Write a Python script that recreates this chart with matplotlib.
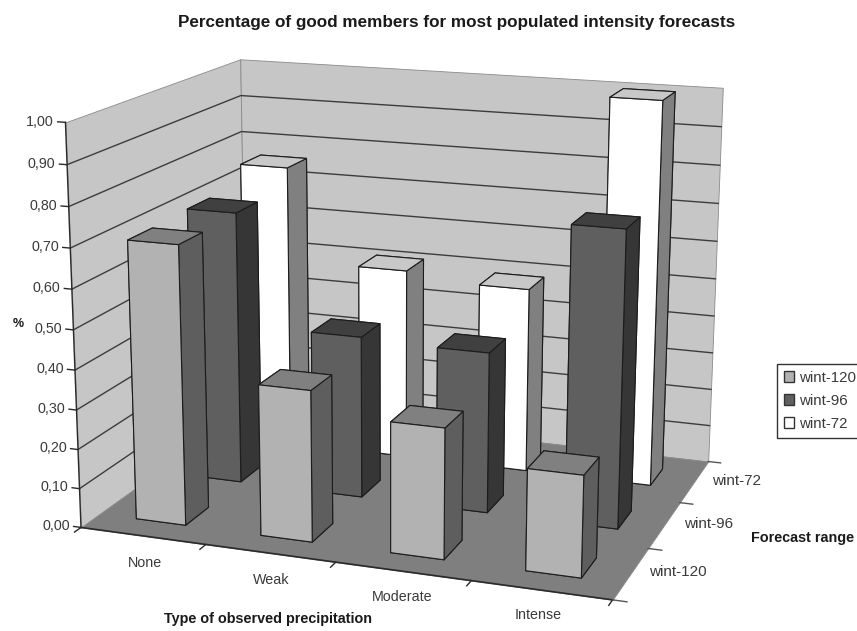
import matplotlib
matplotlib.use("Agg")
import matplotlib.pyplot as plt
from matplotlib.patches import Patch
from mpl_toolkits.mplot3d import proj3d
from mpl_toolkits.mplot3d.art3d import Poly3DCollection

plt.rcParams["font.family"] = ["Liberation Sans", "DejaVu Sans"]

# valores
precipitation = ["None", "Weak", "Moderate", "Intense"]
forecast_range = ["wint-120", "wint-96", "wint-72"]
wint_120 = [0.705, 0.38, 0.325, 0.25]
wint_96 = [0.71, 0.42, 0.413, 0.75]
wint_72 = [0.76, 0.51, 0.49, 1.0]
y_ticks = [0.0, 0.1, 0.2, 0.3, 0.4, 0.5, 0.6, 0.7, 0.8, 0.9, 1.0]

W, H = 857, 631
WALL = "#c6c6c6"
FLOOR = "#7f7f7f"
LINE = "#2a2a2a"
TEXT = "#3a3a3a"
TITLE = "#1a1a1a"
# faces: -z, +z, -y, +y, -x, +x
faces = {
    "wint-120": ["#808080", "#808080", "#b2b2b2", "#b2b2b2", "#5e5e5e", "#5e5e5e"],
    "wint-96": ["#404040", "#404040", "#5f5f5f", "#5f5f5f", "#363636", "#363636"],
    "wint-72": ["#c8c8c8", "#c8c8c8", "#ffffff", "#ffffff", "#808080", "#808080"],
}

fig = plt.figure(figsize=(W / 100, H / 100), dpi=100)
ax = fig.add_axes([0.2283, 0.1825, 0.4831, 0.4831 * W / H], projection="3d", computed_zorder=False)
ax.set_xlim(0, 4, view_margin=0)
ax.set_ylim(0, 3, view_margin=0)
ax.set_zlim(0, 1, view_margin=0)
ax.set_proj_type("persp", focal_length=1)
ax.view_init(elev=15.1204, azim=-70.4195, roll=-0.1249)
ax.set_box_aspect((1.3325, 1.0031, 1), zoom=1.8353)
ax.set_axis_off()


def add_poly(verts, color, z):
    p = Poly3DCollection([verts], facecolors=color, edgecolors="#8a8a8a", linewidths=0.6, zorder=z)
    p.set_clip_on(False)
    ax.add_collection3d(p)


def add_line(xs, ys, zs, z=2, lw=1.1, color=LINE):
    ax.plot(xs, ys, zs, color=color, lw=lw, zorder=z, clip_on=False)


def add_label(x, y, z, s, size, ha="center"):
    # texto 2D na posicao projetada
    px, py, _ = proj3d.proj_transform(x, y, z, ax.get_proj())
    ax.text2D(px, py, s, transform=ax.transData, ha=ha, va="center", fontsize=size, color=TEXT)


# paredes e chao
add_poly([(0, 0, 0), (0, 3, 0), (0, 3, 1), (0, 0, 1)], WALL, 1)
add_poly([(0, 3, 0), (4, 3, 0), (4, 3, 1), (0, 3, 1)], WALL, 1)
add_poly([(0, 0, 0), (4, 0, 0), (4, 3, 0), (0, 3, 0)], FLOOR, 1.5)

for t in y_ticks[1:-1]:
    add_line([0, 0, 4], [0, 3, 3], [t, t, t], lw=1.0, color="#3c3c3c")

# eixos e marcas
add_line([0, 0], [0, 0], [0, 1], z=2.5, lw=1.0)
add_line([0, 4], [0, 0], [0, 0], z=2.5, lw=1.2)
for t in y_ticks:
    add_line([0, -0.06], [0, 0], [t, t], z=2.5, lw=1.0)
    add_label(-0.09, 0, t, ("%.2f" % t).replace(".", ","), 10.3, ha="right")
for i in range(5):
    add_line([i, i], [0, -0.1], [0, 0], z=2.5, lw=1.0)
for j in range(4):
    add_line([4, 4.1], [j, j], [0, 0], z=2.5, lw=1.0, color="#555555")

for i, name in enumerate(precipitation):
    add_label(i + 0.75 - 0.05 * i, -0.47 + 0.02 * i, 0, name, 10.3)
for j, name in enumerate(forecast_range):
    add_label(4.3, j + 0.63, 0, name, 11)

# barras, de tras para a frente
series = {"wint-120": wint_120, "wint-96": wint_96, "wint-72": wint_72}
zo = 3
for j in [2, 1, 0]:
    name = forecast_range[j]
    for i, v in enumerate(series[name]):
        b = ax.bar3d(i + 0.3, j + 0.3, 0, 0.4, 0.4, v, color=faces[name], shade=False,
                     edgecolor="#1c1c1c", linewidth=0.8, zorder=zo)
        b.set_clip_on(False)
        zo += 1

fig.text(457 / W, 1 - 22 / H, "Percentage of good members for most populated intensity forecasts",
         ha="center", va="center", fontsize=12.3, fontweight="bold", color=TITLE)
fig.text(268 / W, 1 - 619 / H, "Type of observed precipitation", ha="center", va="center",
         fontsize=10.4, fontweight="bold", color=TITLE)
fig.text(803 / W, 1 - 538 / H, "Forecast range", ha="center", va="center",
         fontsize=10.4, fontweight="bold", color=TITLE)
fig.text(18 / W, 1 - 324 / H, "%", ha="center", va="center", fontsize=9, fontweight="bold", color=TITLE)

handles = [Patch(facecolor=faces[n][2], edgecolor="#333333", label=n) for n in forecast_range]
leg = fig.legend(handles=handles, loc="upper left", bbox_to_anchor=(777 / W, 1 - 364 / H), fontsize=10.8,
                 frameon=True, fancybox=False, edgecolor="#333333", framealpha=1, borderaxespad=0,
                 handlelength=0.7, handleheight=0.7, handletextpad=0.3, labelcolor=TEXT,
                 borderpad=0.45, labelspacing=0.6)
fig.savefig("out.png", dpi=100)
